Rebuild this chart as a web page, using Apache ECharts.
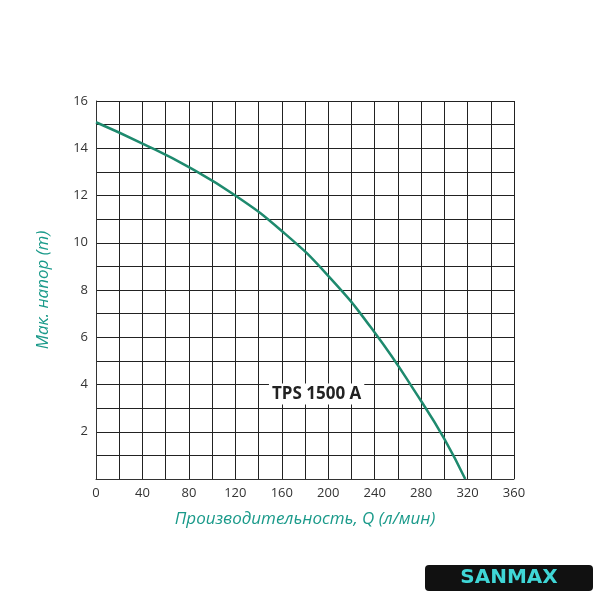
<!DOCTYPE html><html><head><meta charset="utf-8"><script src="https://cdn.jsdelivr.net/npm/echarts@6/dist/echarts.min.js"></script></head><body style="margin:0;background:#fff"><div id="c" style="width:600px;height:600px"></div><script>
const flowQ=[0,40,80,120,160,200,240,280,300,318];
const headH=[15.1,14.2,13.2,12.0,10.5,8.6,6.2,3.3,1.7,0];
const xTicks=[0,40,80,120,160,200,240,280,320,360];
const yTicks=[2,4,6,8,10,12,14,16];
const ch=echarts.init(document.getElementById('c'));
const txt='#1a9a8a';
ch.setOption({
 animation:false,
 grid:{left:96,right:86,top:101,bottom:121},
 xAxis:{type:'value',min:0,max:360,interval:20,
  name:'Производительность, Q (л/мин)',nameLocation:'middle',nameGap:32,
  nameTextStyle:{color:txt,fontStyle:'italic',fontSize:17,fontFamily:'Open Sans'},
  axisLine:{lineStyle:{color:'#333'}},axisTick:{show:false},
  axisLabel:{color:'#333',fontSize:13,fontFamily:'Open Sans',formatter:v=>xTicks.includes(v)?String(v):''},
  splitLine:{lineStyle:{color:'#222',width:1}}},
 yAxis:{type:'value',min:0,max:16,interval:1,
  name:'Мак. напор (m)',nameLocation:'middle',nameGap:44,
  nameTextStyle:{color:txt,fontStyle:'italic',fontSize:17,fontFamily:'Open Sans'},
  axisLine:{lineStyle:{color:'#333'}},axisTick:{show:false},
  axisLabel:{color:'#333',fontSize:13,fontFamily:'Open Sans',formatter:v=>yTicks.includes(v)?String(v):''},
  splitLine:{lineStyle:{color:'#222',width:1}}},
 series:[{type:'line',data:flowQ.map((q,i)=>[q,headH[i]]),smooth:0.5,symbol:'none',
  lineStyle:{color:'#1e8a6e',width:2.5},
  markPoint:{symbol:'rect',symbolSize:0,data:[{coord:[190,3.6],label:{show:true,formatter:'TPS 1500 A',color:'#222',fontSize:17,fontWeight:'bold',fontFamily:'Open Sans',backgroundColor:'#fff',padding:[2,3]}}]}}],
 graphic:[{type:'rect',shape:{x:425,y:565,width:168,height:26,r:4},style:{fill:'#111'}},
  {type:'text',x:509,y:578,style:{text:'SANMAX',fill:'#3fd6d6',font:'bold 20px DejaVu Sans',align:'center',verticalAlign:'middle',letterSpacing:8}}]
});
</script></body></html>
